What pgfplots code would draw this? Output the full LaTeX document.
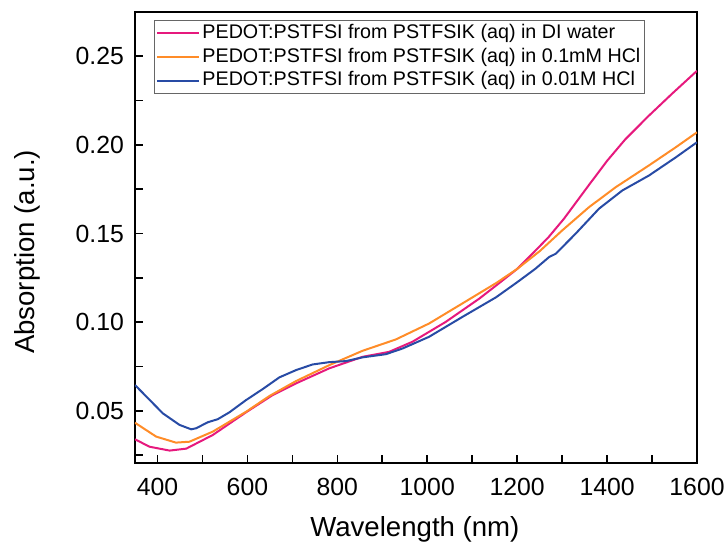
\documentclass[border=0pt]{standalone}
\usepackage{pgfplots}
\pgfplotsset{compat=1.18}
\usepackage{fontspec}
\setmainfont{Liberation Sans}

\definecolor{cpink}{RGB}{230,25,125}
\definecolor{corange}{RGB}{255,140,40}
\definecolor{cblue}{RGB}{40,75,165}

\begin{document}
\begin{tikzpicture}
\begin{axis}[
    name=ax,
    scale only axis,
    width=281pt, height=225.5pt,
    xmin=350, xmax=1600,
    ymin=0.0205, ymax=0.275,
    xtick={400,600,...,1600},
    minor xtick={500,700,...,1500},
    ytick={0.05,0.10,...,0.25},
    minor ytick={0.025,0.075,...,0.275},
    xtick pos=bottom, ytick pos=left,
    tick align=inside,
    major tick length=4pt, minor tick length=4pt,
    every tick/.style={black, line width=0.8pt},
    axis line style={line width=1pt},
    /pgf/number format/assume math mode=true,
    /pgf/number format/1000 sep={},
    xticklabel style={font=\fontsize{12.4}{14}\selectfont, yshift=-4pt},
    yticklabel style={font=\fontsize{12.4}{14}\selectfont, xshift=-2pt,
        /pgf/number format/fixed, /pgf/number format/fixed zerofill,
        /pgf/number format/precision=2},
    scaled y ticks=false,
    xlabel={Wavelength (nm)},
    ylabel={Absorption (a.u.)},
    label style={font=\fontsize{13.8}{16}\selectfont},
    xlabel style={at={(rel axis cs:0.498,-0.147)}, anchor=center},
    ylabel style={at={(rel axis cs:-0.191,0.468)}, anchor=center},
    legend cell align=left,
    legend style={at={(rel axis cs:0.0338,0.982)}, anchor=north west,
        draw=black!60, line width=0.5pt,
        font=\fontsize{9.85}{12}\selectfont,
        inner xsep=1pt, inner ysep=0.5pt, row sep=0pt,
        nodes={inner sep=1pt, text height=7.4pt, text depth=2.4pt}},
    legend image code/.code={\draw[#1] (0pt,0pt) -- (21pt,0pt);},
]

% DI water
\addplot[cpink, line width=1pt] coordinates {
(350,0.0339) (382,0.0297) (427,0.0275) (464,0.0286) (523,0.0363)
(597,0.0491) (656,0.0588) (708,0.0654) (782,0.0739) (856,0.0804)
(915,0.0832) (967,0.0889) (1041,0.1001) (1116,0.1133) (1160,0.1220)
(1200,0.1300) (1234,0.1386) (1270,0.1480) (1304,0.1583) (1360,0.1775)
(1400,0.1910) (1440,0.2030) (1493,0.2165) (1545,0.2290) (1600,0.2418)
};
\addlegendentry{PEDOT:PSTFSI from PSTFSIK (aq) in DI water}

% 0.1 mM HCl
\addplot[corange, line width=1pt] coordinates {
(350,0.0432) (397,0.0354) (441,0.0320) (471,0.0325) (523,0.0382)
(597,0.0494) (649,0.0583) (708,0.0667) (782,0.0757) (856,0.0838)
(930,0.0902) (1004,0.0992) (1078,0.1105) (1153,0.1220) (1200,0.1300)
(1250,0.1400) (1300,0.1517) (1360,0.1649) (1419,0.1761) (1493,0.1884)
(1553,0.1987) (1600,0.2071)
};
\addlegendentry{PEDOT:PSTFSI from PSTFSIK (aq) in 0.1mM HCl}

% 0.01 M HCl
\addplot[cblue, line width=1pt] coordinates {
(350,0.0645) (412,0.0485) (449,0.0420) (475,0.0395) (486,0.0401)
(512,0.0435) (534,0.0452) (560,0.0491) (597,0.0560) (634,0.0622)
(671,0.0688) (708,0.0729) (745,0.0761) (782,0.0774) (819,0.0780)
(856,0.0801) (908,0.0819) (945,0.0851) (1004,0.0917) (1078,0.1029)
(1153,0.1140) (1200,0.1225) (1240,0.1300) (1271,0.1367) (1286,0.1386)
(1330,0.1499) (1382,0.1640) (1434,0.1743) (1493,0.1827) (1553,0.1930)
(1600,0.2015)
};
\addlegendentry{PEDOT:PSTFSI from PSTFSIK (aq) in 0.01M HCl}

\end{axis}
\pgfresetboundingbox
\path[use as bounding box] ([xshift=-67.5pt,yshift=-40pt]ax.south west)
    rectangle ([xshift=15pt,yshift=6pt]ax.north east);
\end{tikzpicture}
\end{document}
